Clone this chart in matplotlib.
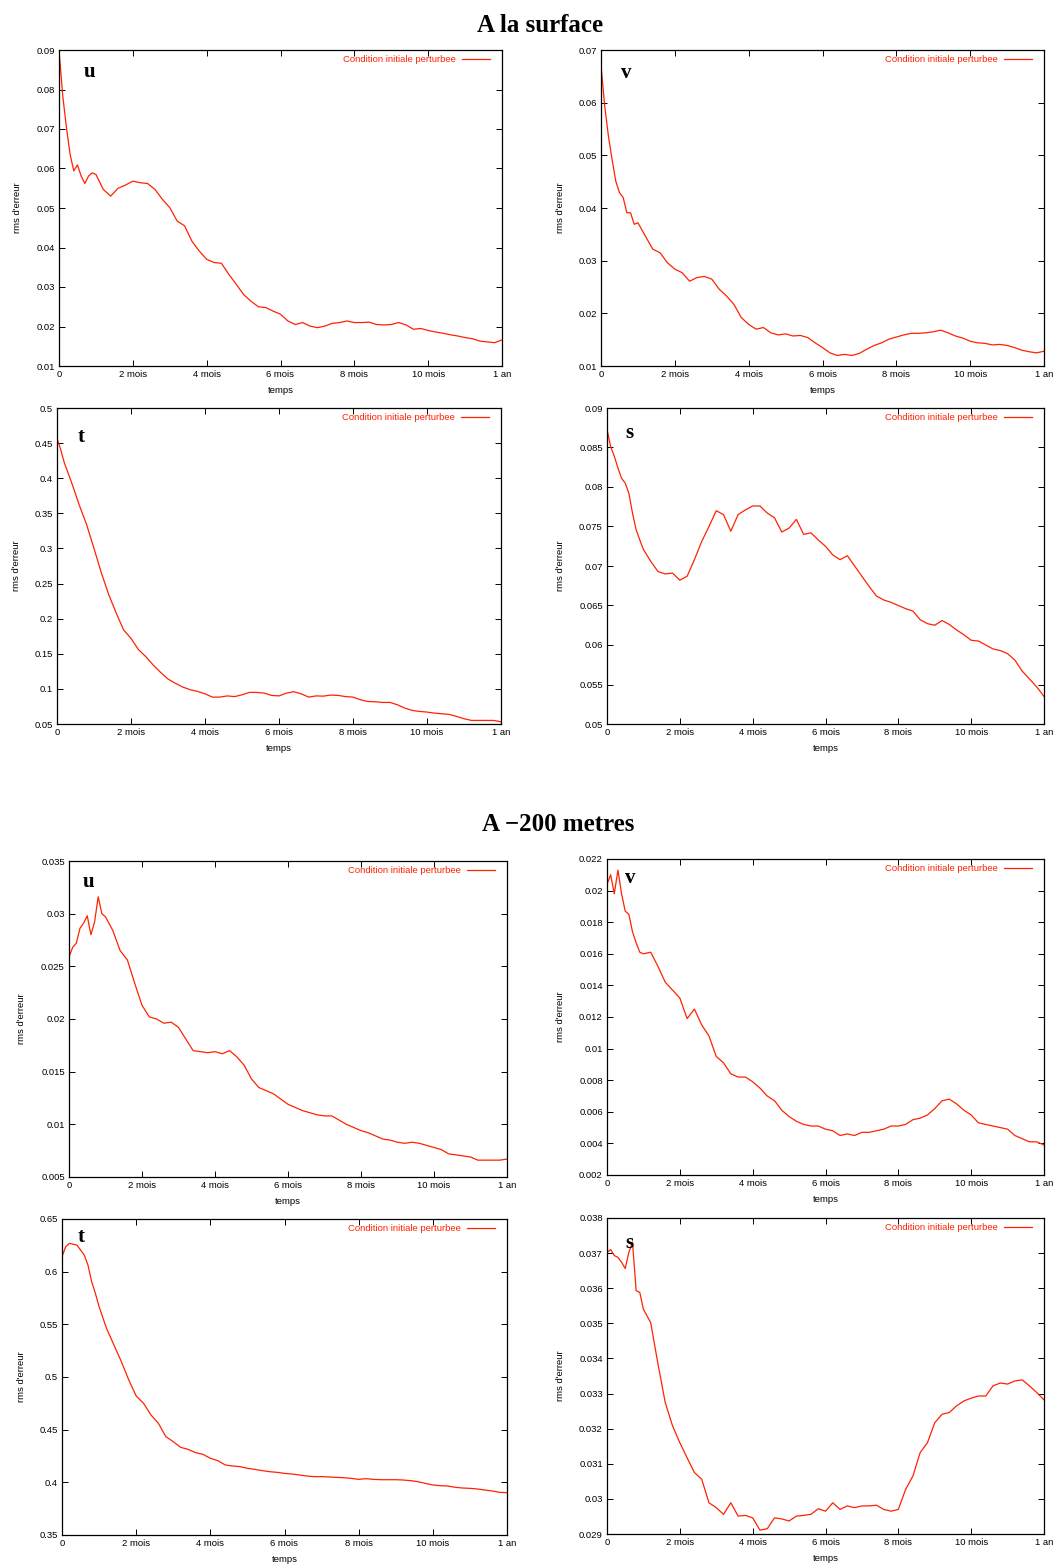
import numpy as np
import matplotlib
matplotlib.use("Agg")
import matplotlib.pyplot as plt
from matplotlib.ticker import FuncFormatter, FixedLocator

# ---- time axis (months): 0.1 step in the first month, then 0.2 ----
months = np.round(np.concatenate([np.arange(0, 1.0001, 0.1),
                                  np.arange(1.2, 12.0001, 0.2)]), 2)
xtick_vals = [0, 2, 4, 6, 8, 10, 12]
xtick_labels = ["0", "2 mois", "4 mois", "6 mois", "8 mois", "10 mois", "1 an"]

# ---- surface ----
surf_u = [0.0900, 0.0785, 0.0705, 0.0636, 0.0594, 0.0609, 0.0581, 0.0562, 0.0581, 0.0589,
          0.0585, 0.0547, 0.0530, 0.0550, 0.0558,
          0.0568, 0.0564, 0.0562, 0.0547, 0.0522, 0.0501, 0.0467, 0.0455, 0.0416, 0.0391,
          0.0370, 0.0362, 0.0360, 0.0332, 0.0307, 0.0281, 0.0264, 0.0250, 0.0248, 0.0239,
          0.0231, 0.0214, 0.0205, 0.0210, 0.0201, 0.0197, 0.0201, 0.0208, 0.0210, 0.0214,
          0.0210, 0.0210, 0.0211, 0.0205, 0.0204, 0.0205, 0.0210, 0.0204, 0.0193, 0.0195,
          0.0190, 0.0186, 0.0183, 0.0179, 0.0176, 0.0172, 0.0169, 0.0163, 0.0161, 0.0159,
          0.0166]
surf_v = [0.0671, 0.0594, 0.0537, 0.0492, 0.0451, 0.0429, 0.0420, 0.0391, 0.0391, 0.0369,
          0.0372, 0.0347, 0.0322, 0.0315, 0.0296,
          0.0284, 0.0277, 0.0261, 0.0268, 0.0270, 0.0265, 0.0246, 0.0233, 0.0217, 0.0192,
          0.0179, 0.0170, 0.0173, 0.0163, 0.0159, 0.0161, 0.0157, 0.0158, 0.0154, 0.0144,
          0.0135, 0.0125, 0.0120, 0.0122, 0.0120, 0.0124, 0.0132, 0.0139, 0.0144, 0.0151,
          0.0155, 0.0159, 0.0162, 0.0162, 0.0163, 0.0165, 0.0168, 0.0163, 0.0157, 0.0153,
          0.0147, 0.0144, 0.0143, 0.0140, 0.0141, 0.0139, 0.0135, 0.0130, 0.0127, 0.0125,
          0.0128]
surf_t = [0.457, 0.4406, 0.4217, 0.4074, 0.393, 0.3775, 0.362, 0.348, 0.334, 0.317,
          0.300, 0.265, 0.234, 0.208, 0.184,
          0.172, 0.156, 0.146, 0.134, 0.1235, 0.114, 0.108, 0.1026, 0.0988, 0.0964,
          0.093, 0.0883, 0.0883, 0.090, 0.089, 0.0916, 0.095, 0.095, 0.094, 0.0907,
          0.090, 0.094, 0.096, 0.093, 0.0883, 0.090, 0.0897, 0.0912, 0.0907, 0.089,
          0.0883, 0.0845, 0.082, 0.0817, 0.0807, 0.0807, 0.0774, 0.0727, 0.0693, 0.0679,
          0.067, 0.0655, 0.0646, 0.0636, 0.0608, 0.0575, 0.0551, 0.0551, 0.0551, 0.0551,
          0.0532]
surf_s = [0.0873, 0.0851, 0.0839, 0.0824, 0.0811, 0.0805, 0.0792, 0.0767, 0.0746, 0.0733,
          0.0721, 0.0706, 0.0693, 0.0690, 0.0691,
          0.0682, 0.0687, 0.0708, 0.0731, 0.0750, 0.0770, 0.0765, 0.0744, 0.0765, 0.0771,
          0.0776, 0.0776, 0.0767, 0.0761, 0.0743, 0.0748, 0.0759, 0.0740, 0.0742, 0.0733,
          0.0725, 0.0714, 0.0708, 0.0713, 0.0700, 0.0687, 0.0674, 0.0662, 0.0657, 0.0654,
          0.0650, 0.0646, 0.0643, 0.0632, 0.0627, 0.0625, 0.0631, 0.0626, 0.0619, 0.0613,
          0.0606, 0.0605, 0.0600, 0.0595, 0.0593, 0.0589, 0.0581, 0.0567, 0.0557, 0.0547,
          0.0535]

# ---- -200 m ----
deep_u = [0.0259, 0.0268, 0.0272, 0.0286, 0.0291, 0.0298, 0.0280, 0.0292, 0.0316, 0.0300,
          0.0297, 0.0284, 0.0265, 0.0256, 0.0234,
          0.0213, 0.0202, 0.0200, 0.0196, 0.0197, 0.0192, 0.0181, 0.0170, 0.0169, 0.0168,
          0.0169, 0.0167, 0.0170, 0.0164, 0.0156, 0.0143, 0.0135, 0.0132, 0.0129, 0.0124,
          0.0119, 0.0116, 0.0113, 0.0111, 0.0109, 0.0108, 0.0108, 0.0104, 0.0100, 0.0097,
          0.0094, 0.0092, 0.0089, 0.0086, 0.0085, 0.0083, 0.0082, 0.0083, 0.0082, 0.0080,
          0.0078, 0.0076, 0.0072, 0.0071, 0.0070, 0.0069, 0.0066, 0.0066, 0.0066, 0.0066,
          0.0067]
deep_v = [0.0204, 0.0210, 0.0198, 0.0213, 0.0198, 0.0187, 0.0185, 0.0174, 0.0167, 0.0161,
          0.0160, 0.0161, 0.0152, 0.0142, 0.0137,
          0.0132, 0.0119, 0.0125, 0.0115, 0.0108, 0.0095, 0.0091, 0.0084, 0.0082, 0.0082,
          0.0079, 0.0075, 0.0070, 0.0067, 0.0061, 0.0057, 0.0054, 0.0052, 0.0051, 0.0051,
          0.0049, 0.0048, 0.0045, 0.0046, 0.0045, 0.0047, 0.0047, 0.0048, 0.0049, 0.0051,
          0.0051, 0.0052, 0.0055, 0.0056, 0.0058, 0.0062, 0.0067, 0.0068, 0.0065, 0.0061,
          0.0058, 0.0053, 0.0052, 0.0051, 0.0050, 0.0049, 0.0045, 0.0043, 0.0041, 0.0041,
          0.0039]
deep_t = [0.6142, 0.6237, 0.6269, 0.6260, 0.6253, 0.6206, 0.6158, 0.6063, 0.5905, 0.5794,
          0.5668, 0.5462, 0.5304, 0.5146, 0.4972,
          0.4820, 0.4750, 0.4639, 0.4560, 0.4434, 0.4386, 0.4332, 0.4313, 0.4282, 0.4266,
          0.4228, 0.4206, 0.4165, 0.4155, 0.4149, 0.4133, 0.4123, 0.4111, 0.4101, 0.4095,
          0.4085, 0.4079, 0.4070, 0.4060, 0.4054, 0.4054, 0.4051, 0.4047, 0.4044, 0.4038,
          0.4028, 0.4035, 0.4028, 0.4025, 0.4025, 0.4025, 0.4022, 0.4016, 0.4006, 0.3990,
          0.3975, 0.3968, 0.3965, 0.3953, 0.3946, 0.3943, 0.3937, 0.3927, 0.3918, 0.3905,
          0.3902]
deep_s = [0.03702, 0.03710, 0.03693, 0.03688, 0.03674, 0.03656, 0.03702, 0.03731, 0.03593, 0.03588,
          0.03540, 0.03502, 0.03384, 0.03274, 0.03208,
          0.03160, 0.03117, 0.03075, 0.03056, 0.02989, 0.02975, 0.02956, 0.02989, 0.02951, 0.02953,
          0.02946, 0.02911, 0.02915, 0.02946, 0.02943, 0.02937, 0.02951, 0.02953, 0.02956, 0.02972,
          0.02965, 0.02989, 0.02970, 0.02980, 0.02975, 0.02980, 0.02980, 0.02982, 0.02970, 0.02965,
          0.02970, 0.03027, 0.03065, 0.03132, 0.03160, 0.03217, 0.03241, 0.03246, 0.03265, 0.03279,
          0.03287, 0.03293, 0.03293, 0.03322, 0.03330, 0.03327, 0.03336, 0.03339, 0.03322, 0.03303,
          0.03282]

panel_series = [surf_u, surf_v, surf_t, surf_s, deep_u, deep_v, deep_t, deep_s]
panel_letters = ["u", "v", "t", "s", "u", "v", "t", "s"]
panel_ylims = [(0.01, 0.09), (0.01, 0.07), (0.05, 0.5), (0.05, 0.09),
               (0.005, 0.035), (0.002, 0.022), (0.35, 0.65), (0.029, 0.038)]
panel_ysteps = [0.01, 0.01, 0.05, 0.005, 0.005, 0.002, 0.05, 0.001]
legend_label = "Condition initiale perturbee"
ylabel = "rms d'erreur"
xlabel = "temps"
titles = ["A la surface", "A \u2212200 metres"]

# ---- layout (pixels) ----
W, H = 1057, 1564
boxes = [(59, 502, 50, 366), (601, 1044, 50, 366),
         (57, 501, 408, 724), (607, 1044, 408, 724),
         (69, 507, 861, 1177), (607, 1044, 859, 1175),
         (62, 507, 1219, 1535), (607, 1044, 1218, 1534)]
ylabel_px = [22, 565, 21, 565, 26, 565, 26, 565]
letter_pos = [(90, 72), (626, 73), (81, 437), (629, 433),
              (89, 882), (630, 878), (81, 1237), (629, 1243)]

RED = "#ff2200"
plt.rcParams["font.family"] = ["Liberation Sans", "DejaVu Sans"]

fig = plt.figure(figsize=(W / 100, H / 100), dpi=100)

for i in range(8):
    l, r, t, b = boxes[i]
    aw, ah = r - l, b - t
    ax = fig.add_axes([l / W, 1 - b / H, aw / W, ah / H])
    ax.plot(months, panel_series[i], color=RED, lw=0.9, label=legend_label)
    ax.set_xlim(0, 12)
    lo, hi = panel_ylims[i]
    ax.set_ylim(lo, hi)
    step = panel_ysteps[i]
    n = int(round((hi - lo) / step))
    yt = [lo + k * step for k in range(n + 1)]
    ax.yaxis.set_major_locator(FixedLocator(yt))
    ax.yaxis.set_major_formatter(FuncFormatter(lambda v, p: "%g" % round(v, 6)))
    ax.set_xticks(xtick_vals)
    ax.set_xticklabels(xtick_labels)
    ax.tick_params(direction="in", length=4, width=0.7, top=True, right=True,
                   labelsize=6.8, pad=3, colors="black")
    for sp in ax.spines.values():
        sp.set_linewidth(0.9)
    ax.set_ylabel(ylabel, fontsize=6.8)
    ax.yaxis.set_label_coords(-(l - ylabel_px[i]) / aw, 0.5)
    ax.set_xlabel(xlabel, fontsize=6.8)
    ax.xaxis.set_label_coords(0.5, -20 / ah)
    ax.legend(loc="upper right", frameon=False, markerfirst=False,
              fontsize=6.8, handlelength=3.0, handletextpad=0.6,
              borderpad=0, borderaxespad=0,
              bbox_to_anchor=(1 - 12 / aw, 1 - 5 / ah), labelcolor=RED)
    lx, ly = letter_pos[i]
    ax.text((lx - l) / aw, 1 - (ly - t) / ah, panel_letters[i],
            transform=ax.transAxes, ha="center", va="center",
            fontsize=15, fontweight="bold", family="Liberation Serif")

fig.text(540 / W, 1 - 32 / H, titles[0], ha="center", va="baseline",
         fontsize=18, fontweight="bold", family="Liberation Serif")
fig.text(558 / W, 1 - 831 / H, titles[1], ha="center", va="baseline",
         fontsize=18, fontweight="bold", family="Liberation Serif")

fig.savefig("out.png", dpi=100)
